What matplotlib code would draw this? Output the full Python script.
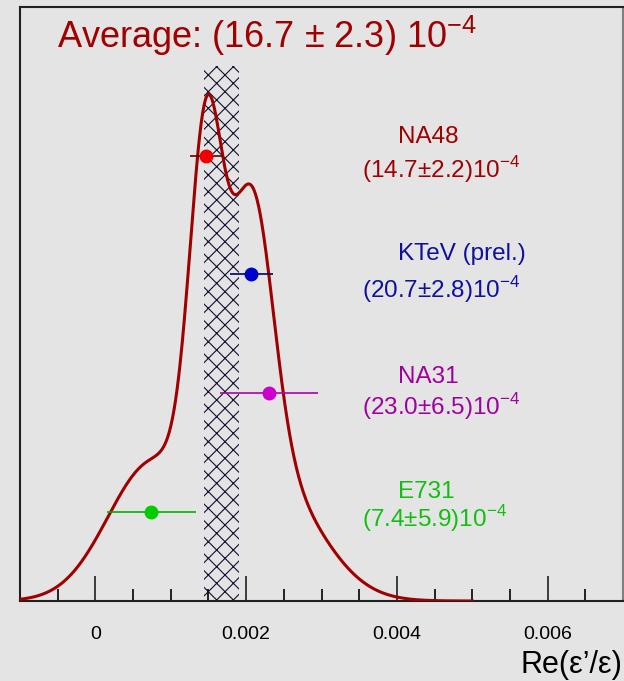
import numpy as np
import matplotlib
matplotlib.use("Agg")
import matplotlib.pyplot as plt
from matplotlib.ticker import MultipleLocator

plt.rcParams['font.family'] = ['Liberation Sans', 'DejaVu Sans']
plt.rcParams['mathtext.fontset'] = 'custom'
plt.rcParams['mathtext.rm'] = 'Liberation Sans'
plt.rcParams['hatch.linewidth'] = 0.8

# measurements of Re(eps'/eps), units of 1e-4
experiments = ['NA48', 'KTeV (prel.)', 'NA31', 'E731']
values = [14.7, 20.7, 23.0, 7.4]
errors = [2.2, 2.8, 6.5, 5.9]
avg_value = 16.7
avg_error = 2.3

point_colors = ['#ee0000', '#0000cc', '#cc00cc', '#00cc00']
text_colors = ['#a00000', '#1010a0', '#a000a0', '#10c010']
bar_colors = ['#600000', '#000060', '#b000b0', '#00b000']
row_y = [2.25, 1.65, 1.05, 0.45]

bg = '#e4e4e4'
fig = plt.figure(figsize=(6.24, 6.81), dpi=100, facecolor=bg)
ax = fig.add_axes([20/624, 80/681, 603/624, 594/681], facecolor=bg)

# ideogram: sum of unit-area gaussians
x = np.linspace(-0.001, 0.005, 600)
curve = np.zeros_like(x)
for v, e in zip(values, errors):
    m, s = v*1e-4, e*1e-4
    curve += np.exp(-0.5*((x - m)/s)**2) / (s*1e3*np.sqrt(2*np.pi))

# average band
ax.fill_betweenx([0, 2.70], (avg_value - avg_error)*1e-4, (avg_value + avg_error)*1e-4,
                 facecolor='none', edgecolor='#101030', hatch='xx', linewidth=0, zorder=2)

ax.plot(x, curve, color='#a00000', lw=2.2, zorder=3)

for v, e, y, pc, bc in zip(values, errors, row_y, point_colors, bar_colors):
    ax.errorbar(v*1e-4, y, xerr=e*1e-4, fmt='o', color=pc, ecolor=bc,
                ms=9, elinewidth=1.2, capsize=0, zorder=4)

# labels on the right
name_y = [143, 260, 383, 498]
val_y = [178, 298, 415, 527]
for name, v, e, tc, ny, vy in zip(experiments, values, errors, text_colors, name_y, val_y):
    ax.text((398 - 20)/603, (601 - ny)/594, name, transform=ax.transAxes,
            ha='left', va='baseline', fontsize=17.5, color=tc)
    ax.text((362 - 20)/603, (601 - vy)/594, '(%.1f\u00b1%.1f)10$^{-4}$' % (v, e),
            transform=ax.transAxes, ha='left', va='baseline', fontsize=17.5, color=tc)

ax.text((57 - 20)/603, (601 - 48)/594,
        'Average: (%.1f \u00b1 %.1f) 10$^{-4}$' % (avg_value, avg_error),
        transform=ax.transAxes, ha='left', va='baseline', fontsize=26, color='#a00000')

ax.set_xlim(-0.001, 0.007)
ax.set_ylim(0, 3.0)
ax.xaxis.set_major_locator(MultipleLocator(0.002))
ax.xaxis.set_minor_locator(MultipleLocator(0.0005))
ax.xaxis.set_major_formatter(plt.FuncFormatter(lambda v, p: '0' if abs(v) < 1e-9 else '%g' % v))
ax.tick_params(axis='x', which='major', direction='in', length=18, width=1.2,
               labelsize=14, pad=18, color='#202020', top=False)
ax.tick_params(axis='x', which='minor', direction='in', length=9, width=1.2, top=False)
ax.set_yticks([])
for side in ['left', 'top', 'bottom']:
    ax.spines[side].set_color('#202020')
    ax.spines[side].set_linewidth(1.5)
ax.spines['right'].set_color('#808080')
ax.spines['right'].set_linewidth(1.5)

fig.text(622/624, (681 - 673)/681, 'Re(\u03b5\u2019/\u03b5)', ha='right', va='baseline', fontsize=22)

fig.savefig('out.png', dpi=100, facecolor=bg)
